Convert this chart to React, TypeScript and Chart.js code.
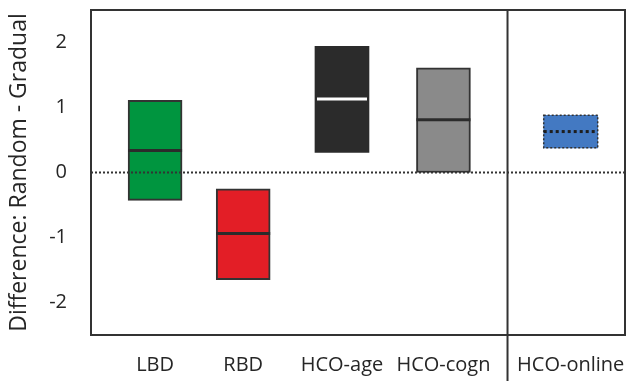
import React, { useEffect, useRef } from "react";
import { Chart, registerables } from "chart.js";

Chart.register(...registerables);

// ---- data ----
const categories = ["LBD", "RBD", "HCO-age", "HCO-cogn", "HCO-online"];
const categoryPositions = [0.72, 1.71, 2.82, 3.96, 5.39];
const lows = [-0.43, -1.65, 0.31, 0.0, 0.38];
const highs = [1.11, -0.25, 1.94, 1.61, 0.88];
const medians = [0.34, -0.94, 1.13, 0.81, 0.63];
const yTicks = [-2, -1, 0, 1, 2];
const separatorAt = 4.68;
const xRange = [0, 6];
const yRange = [-2.5, 2.5];

// ---- styles ----
const fillColors = ["#00953F", "#E31E26", "#2B2B2B", "#8A8A8A", "#4379C2"];
const medianColors = ["#2B2B2B", "#2B2B2B", "#FFFFFF", "#2B2B2B", "#1E1E1E"];
const FONT = "'Open Sans', 'Noto Sans', sans-serif";
const INK = "#262626";
const LINE = "#333333";

const overlay = {
  id: "overlay",
  afterDatasetsDraw(chart: any) {
    const { ctx, chartArea, scales } = chart;
    const { left, right, top, bottom } = chartArea;
    const y = scales.y;
    const x = scales.x;
    const meta = chart.getDatasetMeta(0);
    ctx.save();

    meta.data.forEach((bar: any, i: number) => {
      const p = bar.getProps(["x", "y", "base", "width"], true);
      const x0 = p.x - p.width / 2;
      const x1 = p.x + p.width / 2;
      if (i === 4) {
        ctx.strokeStyle = LINE;
        ctx.lineWidth = 1.5;
        ctx.setLineDash([2, 2]);
        const yt = Math.min(p.y, p.base);
        const yb = Math.max(p.y, p.base);
        ctx.strokeRect(x0, yt, x1 - x0, yb - yt);
      }
      const ym = y.getPixelForValue(medians[i]);
      ctx.beginPath();
      ctx.strokeStyle = medianColors[i];
      ctx.lineWidth = 3;
      ctx.setLineDash(i === 4 ? [3, 3] : []);
      const inset = i === 2 ? 2 : 0;
      ctx.moveTo(x0 + inset, ym);
      ctx.lineTo(x1 - inset, ym);
      ctx.stroke();
    });

    const y0 = y.getPixelForValue(0);
    ctx.beginPath();
    ctx.setLineDash([2, 2]);
    ctx.strokeStyle = LINE;
    ctx.lineWidth = 2;
    ctx.moveTo(left, y0);
    ctx.lineTo(right, y0);
    ctx.stroke();

    ctx.setLineDash([]);
    const xs = x.getPixelForValue(separatorAt);
    ctx.beginPath();
    ctx.lineWidth = 2;
    ctx.strokeStyle = LINE;
    ctx.moveTo(xs, top);
    ctx.lineTo(xs, chart.height);
    ctx.stroke();

    ctx.strokeRect(left, top, right - left, bottom - top);
    ctx.restore();
  },
};

export default function App() {
  const ref = useRef<HTMLCanvasElement | null>(null);
  useEffect(() => {
    if (!ref.current) return;
    const chart = new Chart(ref.current, {
      type: "bar",
      data: {
        datasets: [
          {
            data: categoryPositions.map((p, i) => ({ x: p, y: [lows[i], highs[i]] })) as any,
            backgroundColor: fillColors,
            borderColor: LINE,
            borderWidth: [2, 2, 0, 2, 0],
            borderSkipped: false,
            barThickness: 54,
          },
        ],
      },
      options: {
        animation: false,
        responsive: true,
        maintainAspectRatio: false,
        layout: { autoPadding: false, padding: { top: 10, right: 5, bottom: 0, left: 0 } },
        plugins: { legend: { display: false }, tooltip: { enabled: false } },
        scales: {
          x: {
            type: "linear",
            offset: false,
            min: xRange[0],
            max: xRange[1],
            grid: { display: false, drawTicks: false },
            border: { display: false },
            afterBuildTicks: (s: any) => {
              s.ticks = categoryPositions.map((v) => ({ value: v }));
            },
            afterFit: (s: any) => {
              s.height = 46;
              s.paddingLeft = 0;
              s.paddingRight = 0;
              s.paddingTop = 0;
              s.paddingBottom = 0;
            },
            ticks: {
              autoSkip: false,
              maxRotation: 0,
              padding: 18,
              color: INK,
              font: { family: FONT, size: 20 },
              callback: (_v: any, i: number) => categories[i],
            },
          },
          y: {
            min: yRange[0],
            max: yRange[1],
            grid: { display: false, drawTicks: false },
            border: { display: false },
            afterBuildTicks: (s: any) => {
              s.ticks = yTicks.map((v) => ({ value: v }));
            },
            afterFit: (s: any) => {
              s.width = 91;
              s.paddingTop = 0;
              s.paddingBottom = 0;
              s.paddingLeft = 0;
              s.paddingRight = 0;
            },
            ticks: {
              padding: 24,
              color: INK,
              font: { family: FONT, size: 20 },
              callback: (v: any) => String(v),
            },
            title: {
              display: true,
              text: "Difference: Random - Gradual",
              color: INK,
              font: { family: FONT, size: 23 },
              padding: { top: 6, bottom: 0 },
            },
          },
        },
      },
      plugins: [overlay],
    });
    return () => chart.destroy();
  }, []);
  return (
    <div style={{ position: "fixed", left: 0, top: 0, width: 630, height: 381, background: "#fff" }}>
      <canvas ref={ref} />
    </div>
  );
}
